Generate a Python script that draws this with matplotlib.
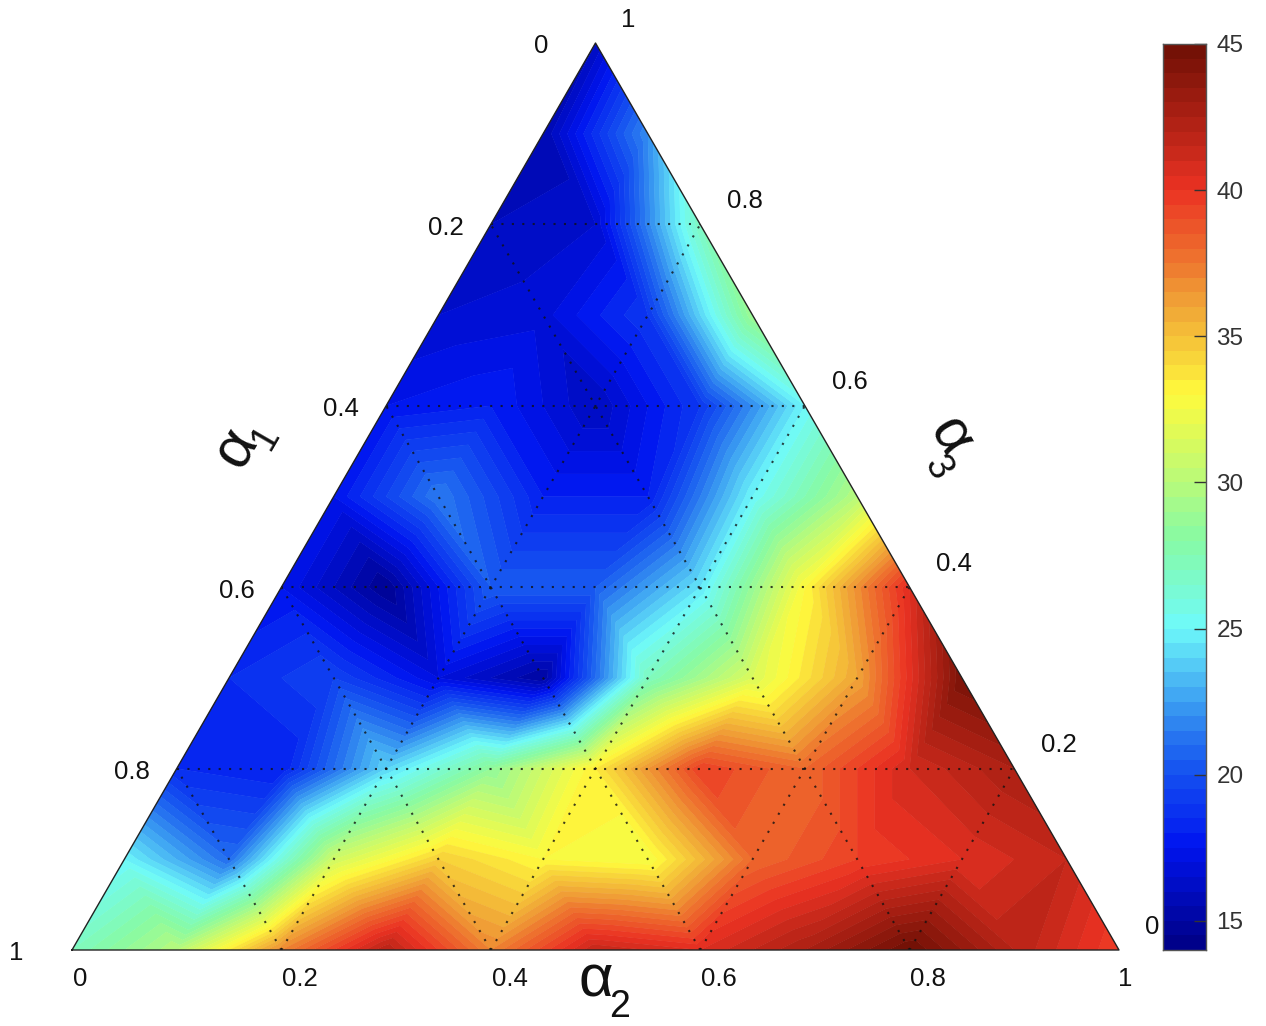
import numpy as np
import matplotlib
matplotlib.use("Agg")
import matplotlib.pyplot as plt
import matplotlib.tri as mtri
from matplotlib.colors import LinearSegmentedColormap

plt.rcParams['font.family'] = ['Liberation Sans', 'DejaVu Sans']

W, H = 1266, 1026

# Values per row of constant alpha3, alpha2 rising from 0 in steps of 0.1
row_a3_00 = [27, 30, 37, 42, 37, 41.5, 40.5, 42.5, 45, 42, 39.5]
row_a3_01 = [25, 21, 31, 34.5, 33, 32.5, 38, 39.5, 40.5, 41.5]
row_a3_02 = [18.5, 18, 24, 28.5, 33.5, 39.5, 38, 41, 42.5]
row_a3_03 = [18.5, 19.5, 17, 15, 27, 31.5, 36, 44.5]
row_a3_04 = [17.5, 14.5, 20.5, 20.5, 24.5, 33, 40.5]
row_a3_05 = [17.5, 21.5, 18, 18, 25, 30]
row_a3_06 = [17.5, 18, 16, 19, 25]
row_a3_07 = [16.5, 16.8, 19, 29]
row_a3_08 = [16, 16.5, 27]
row_a3_09 = [15.5, 22]
row_a3_10 = [16]
rows = [row_a3_00, row_a3_01, row_a3_02, row_a3_03, row_a3_04, row_a3_05,
        row_a3_06, row_a3_07, row_a3_08, row_a3_09, row_a3_10]

grid_values = [0.2, 0.4, 0.6, 0.8]
tick_left = ['0', '0.2', '0.4', '0.6', '0.8', '1']
tick_bottom = ['0', '0.2', '0.4', '0.6', '0.8', '1']
tick_right = ['1', '0.8', '0.6', '0.4', '0.2', '0']
cbar_ticks = [15, 20, 25, 30, 35, 40, 45]
vmin, vmax = 14, 45

cmap = LinearSegmentedColormap.from_list('rb', [
    (0.0, (0, 0, 130/255)),
    ((17.5-14)/31, (0, 20/255, 240/255)),
    ((20-14)/31, (20/255, 80/255, 240/255)),
    ((22-14)/31, (50/255, 140/255, 240/255)),
    ((25-14)/31, (110/255, 250/255, 250/255)),
    ((28-14)/31, (135/255, 250/255, 165/255)),
    ((33-14)/31, (255/255, 250/255, 60/255)),
    ((36-14)/31, (240/255, 165/255, 55/255)),
    ((40-14)/31, (235/255, 50/255, 35/255)),
    (1.0, (110/255, 15/255, 5/255)),
])
levels = np.linspace(vmin, vmax, 63)

fig = plt.figure(figsize=(W/100, H/100), dpi=100)
ax = fig.add_axes([72/W, 1-950/H, 1047/W, 907/H])
ax.set_xlim(0, 1)
ax.set_ylim(0, 1)
ax.axis('off')


def xy(a2, a3):
    return a2 + a3/2, a3


a2s, a3s, zs = [], [], []
for i, row in enumerate(rows):
    for j, v in enumerate(row):
        a3s.append(i/10)
        a2s.append(j/10)
        zs.append(v)
X, Y = xy(np.array(a2s), np.array(a3s))
tri = mtri.Triangulation(X, Y)
ax.tricontourf(tri, zs, levels=levels, cmap=cmap, vmin=vmin, vmax=vmax, antialiased=True)
ax.tricontourf(tri, zs, levels=levels, cmap=cmap, vmin=vmin, vmax=vmax, antialiased=True)

dot = dict(color='#111111', lw=1.5, ls=(0, (1, 4)), dash_capstyle='butt', alpha=.8)
for g in grid_values:
    ax.plot(*zip(xy(0, g), xy(1-g, g)), **dot)
    ax.plot(*zip(xy(g, 0), xy(g, 1-g)), **dot)
    ax.plot(*zip(xy(g, 0), xy(0, g)), **dot)
ax.plot(*zip(xy(0, 0), xy(1, 0), xy(0, 1), xy(0, 0)), color='#222222', lw=1.0, clip_on=False)


def label(px, py, s, size=18.5, rot=0, color='#111111'):
    fig.text(px/W, 1-py/H, s, fontsize=size, rotation=rot, color=color,
             ha='center', va='center', rotation_mode='anchor')


for s, (px, py) in zip(tick_left, [(541, 46), (446, 228), (341, 409), (237, 591), (132, 772), (16, 953)]):
    label(px, py, s)
for s, px in zip(tick_bottom, [80, 300, 510, 719, 928, 1125]):
    label(px, 979, s)
for s, (px, py) in zip(tick_right, [(628, 20), (745, 201), (850, 382), (954, 564), (1059, 745), (1152, 927)]):
    label(px, py, s)

label(596, 981, 'α', 43)
label(620, 1007, '2', 27)
label(236, 448, 'α', 43, 60)
label(266, 438, '1', 27, 60)
label(950, 437, 'α', 43, -60)
label(937, 468, '3', 27, -60)

cax = fig.add_axes([1163/W, 1-950/H, 43/W, 906/H])
edges = np.linspace(vmin, vmax, 63)
cax.pcolormesh([0, 1], edges, ((edges[:-1]+edges[1:])/2)[:, None], cmap=cmap, vmin=vmin, vmax=vmax)
cax.set_xticks([])
cax.yaxis.tick_right()
cax.set_yticks(cbar_ticks)
cax.tick_params(axis='y', direction='in', length=9, width=1, color='#333333',
                labelsize=17.5, labelcolor='#333333', pad=7.5)
for sp in cax.spines.values():
    sp.set_color('#555555')
    sp.set_linewidth(1)

fig.savefig('out.png', dpi=100)
